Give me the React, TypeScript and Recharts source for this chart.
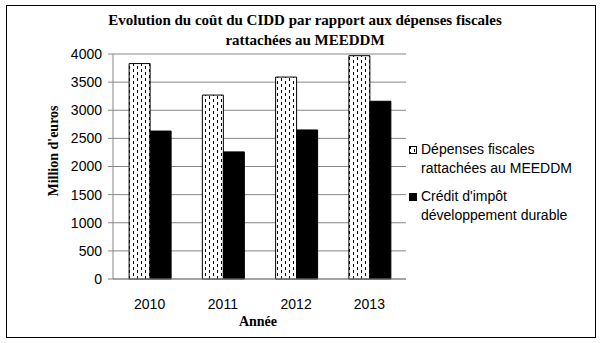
import React from 'react';
import { BarChart, Bar, XAxis, YAxis, CartesianGrid } from 'recharts';

const categories = ['2010', '2011', '2012', '2013'];
const depenses = [3830, 3270, 3590, 3970];
const credit = [2630, 2260, 2650, 3160];
const yTicks = [0, 500, 1000, 1500, 2000, 2500, 3000, 3500, 4000];
const seriesNames = ['Dépenses fiscales rattachées au MEEDDM', "Crédit d'impôt développement durable"];
const legendLines = [
  ['Dépenses fiscales', 'rattachées au MEEDDM'],
  ["Crédit d'impôt", 'développement durable'],
];

const data = categories.map((c, i) => ({ year: c, depenses: depenses[i], credit: credit[i] }));

const GRAY = '#868686';
const serif = '"Liberation Serif", "Times New Roman", serif';
const sans = '"Liberation Sans", Arial, sans-serif';

export default function App() {
  return (
    <div style={{ position: 'absolute', left: 0, top: 0, width: 602, height: 343, background: '#fff' }}>
      <svg width={0} height={0} style={{ position: 'absolute' }}>
        <defs>
          <pattern id="hatch" width={8} height={6} patternUnits="userSpaceOnUse">
            <rect width={8} height={6} fill="#fff" />
            <line x1={1.5} y1={0} x2={1.5} y2={3} stroke="#000" strokeWidth={1} shapeRendering="crispEdges" />
            <line x1={5.5} y1={3} x2={5.5} y2={6} stroke="#000" strokeWidth={1} shapeRendering="crispEdges" />
          </pattern>
        </defs>
      </svg>
      <div style={{ position: 'absolute', left: 6, top: 5, width: 590, height: 333, border: '1px solid #000', boxSizing: 'border-box' }} />
      <BarChart
        width={602}
        height={343}
        data={data}
        margin={{ top: 54, right: 196, bottom: 34, left: 53 }}
        barCategoryGap="22%"
        barGap={0}
      >
        <CartesianGrid vertical={false} stroke={GRAY} strokeWidth={1} />
        <XAxis
          dataKey="year"
          height={30}
          tickLine={false}
          axisLine={{ stroke: GRAY }}
          tickMargin={14}
          tick={{ fill: '#000', fontFamily: sans, fontSize: 14 }}
        />
        <YAxis
          width={60}
          domain={[0, 4000]}
          ticks={yTicks}
          interval={0}
          tickSize={5}
          tickMargin={6}
          axisLine={{ stroke: GRAY }}
          tickLine={{ stroke: GRAY }}
          tick={{ fill: '#000', fontFamily: sans, fontSize: 14 }}
        />
        <Bar dataKey="depenses" name={seriesNames[0]} fill="url(#hatch)" stroke="#000" strokeWidth={1} isAnimationActive={false} />
        <Bar dataKey="credit" name={seriesNames[1]} fill="#000" stroke="#000" strokeWidth={1} isAnimationActive={false} />
      </BarChart>
      <div style={{ position: 'absolute', left: 0, width: 610, top: 10, textAlign: 'center', fontFamily: serif, fontWeight: 'bold', fontSize: 15, lineHeight: '20px', color: '#000' }}>
        <div>Evolution du coût du CIDD par rapport aux dépenses fiscales</div>
        <div>rattachées au MEEDDM</div>
      </div>
      <div style={{ position: 'absolute', left: 54, top: 151, transform: 'translate(-50%, -50%) rotate(-90deg)', whiteSpace: 'nowrap', fontFamily: serif, fontWeight: 'bold', fontSize: 14, color: '#000' }}>
        Million d'euros
      </div>
      <div style={{ position: 'absolute', left: 258, top: 322, transform: 'translate(-50%, -50%)', whiteSpace: 'nowrap', fontFamily: serif, fontWeight: 'bold', fontSize: 14, color: '#000' }}>
        Année
      </div>
      <div style={{ position: 'absolute', left: 409, top: 140, fontFamily: sans, fontSize: 14, lineHeight: '19px', color: '#000' }}>
        {legendLines.map((lines, i) => (
          <div key={i} style={{ display: 'flex', alignItems: 'flex-start', marginBottom: 9 }}>
            <svg width={8} height={8} style={{ marginTop: 6, marginRight: 4, flexShrink: 0 }}>
              <rect x={0.5} y={0.5} width={7} height={7} fill={i === 0 ? 'url(#hatch)' : '#000'} stroke="#000" strokeWidth={1} />
            </svg>
            <div>
              {lines.map((l, j) => (
                <div key={j} style={{ whiteSpace: 'nowrap' }}>{l}</div>
              ))}
            </div>
          </div>
        ))}
      </div>
    </div>
  );
}
